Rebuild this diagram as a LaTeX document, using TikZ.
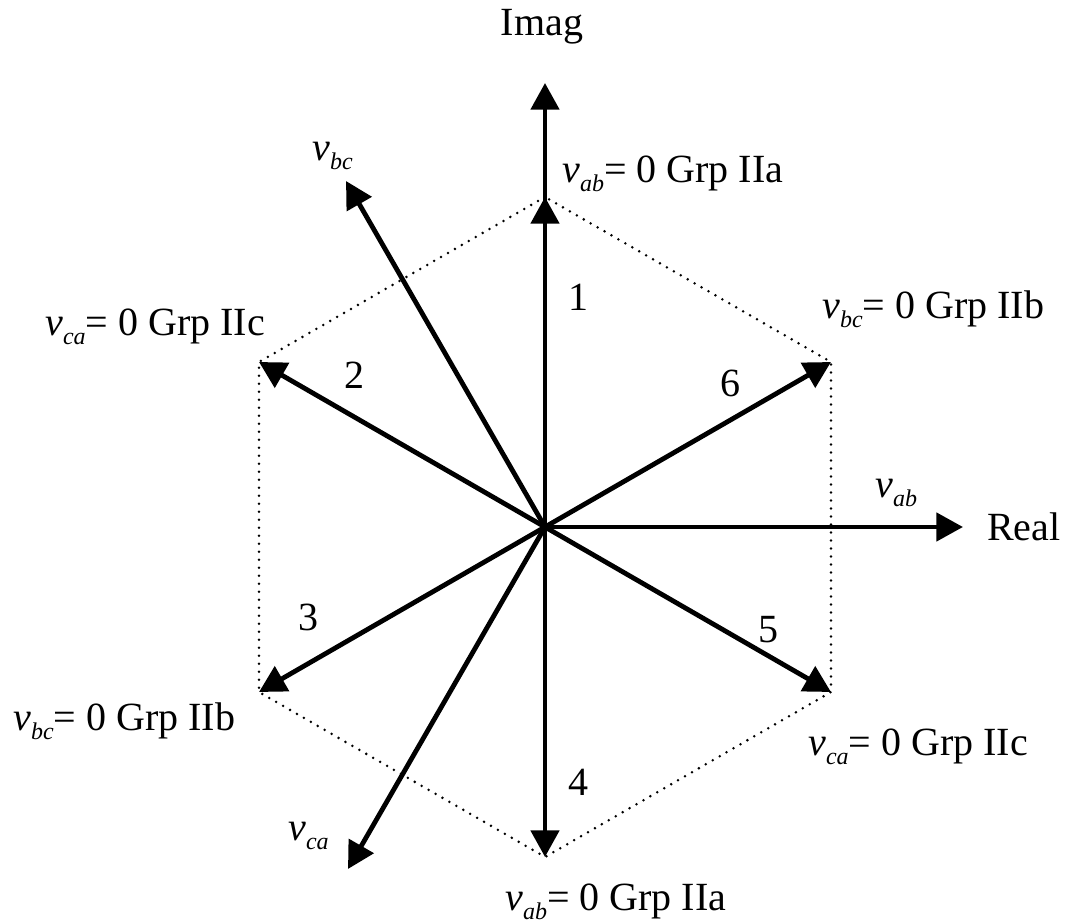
\documentclass[tikz,border=0pt]{standalone}
\usepackage{fontspec}
\setmainfont{Liberation Serif}
\usetikzlibrary{arrows.meta}
\newcommand{\vsub}[2]{\textit{#1}\raisebox{-7pt}{\fontsize{18}{18}\selectfont\textit{#2}}}
\begin{document}
\begin{tikzpicture}[x=0.75pt,y=-0.75pt,
  vec/.style={line width=3.6pt,-{Triangle[length=20pt,width=21pt]}},
  hexdot/.style={line width=2.1pt,dash pattern=on 0pt off 6pt,line cap=round},
  lbl/.style={font=\fontsize{30}{36}\selectfont,inner sep=0pt}]
\useasboundingbox (0,0) rectangle (1071,924);
\coordinate (O) at (545,527);
\coordinate (V1) at (545,197);
\coordinate (V2) at (259,362);
\coordinate (V3) at (259,692);
\coordinate (V4) at (545,857);
\coordinate (V5) at (831,692);
\coordinate (V6) at (831,362);
\coordinate (Im) at (545,83);
\coordinate (Re) at (963,527);
\coordinate (Bc) at (346,181);
\coordinate (Ca) at (348,869);
\draw[hexdot] (V1)--(V2)--(V3)--(V4)--(V5)--(V6)--cycle;
\draw[vec] (O)--(Im);
\draw[vec] (O)--(V1);
\draw[vec] (O)--(V2);
\draw[vec] (O)--(V3);
\draw[vec] (O)--(V4);
\draw[vec] (O)--(V5);
\draw[vec] (O)--(V6);
\draw[vec] (O)--(Re);
\draw[vec] (O)--(Bc);
\draw[vec] (O)--(Ca);
\node[lbl,anchor=base] (imag) at (542,36) {Imag};
\node[lbl,anchor=base west] (real) at (987,540) {Real};
\node[lbl,anchor=base west] (l1) at (562,182) {\vsub{v}{ab}= 0 Grp IIa};
\node[lbl,anchor=base west] (l6) at (822,318) {\vsub{v}{bc}= 0 Grp IIb};
\node[lbl,anchor=base west] (l2) at (45,335) {\vsub{v}{ca}= 0 Grp IIc};
\node[lbl,anchor=base west] (l3) at (13,730) {\vsub{v}{bc}= 0 Grp IIb};
\node[lbl,anchor=base west] (l5) at (808,755) {\vsub{v}{ca}= 0 Grp IIc};
\node[lbl,anchor=base west] (l4) at (505,910) {\vsub{v}{ab}= 0 Grp IIa};
\node[lbl,anchor=base west] (vab) at (875,497) {\vsub{v}{ab}};
\node[lbl,anchor=base west] (vbc) at (312,160) {\vsub{v}{bc}};
\node[lbl,anchor=base west] (vca) at (288,840) {\vsub{v}{ca}};
\node[lbl] (n1) at (578,297) {1};
\node[lbl] (n2) at (354,375) {2};
\node[lbl] (n3) at (308,617) {3};
\node[lbl] (n4) at (578,782) {4};
\node[lbl] (n5) at (768,630) {5};
\node[lbl] (n6) at (730,383) {6};
\end{tikzpicture}
\end{document}
